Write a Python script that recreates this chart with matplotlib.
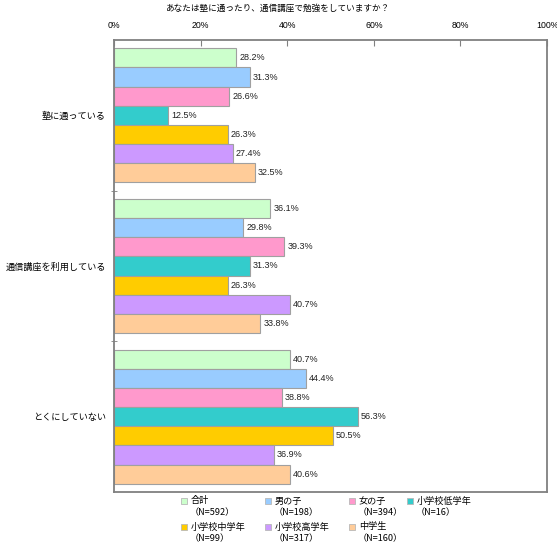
import matplotlib
matplotlib.use("Agg")
import matplotlib.pyplot as plt
import numpy as np
from matplotlib.patches import Rectangle

plt.rcParams['font.family'] = ['Noto Sans CJK JP', 'DejaVu Sans']

title = "あなたは塾に通ったり、通信講座で勉強をしていますか？"
categories = ["塾に通っている", "通信講座を利用している", "とくにしていない"]
series = ["合計", "男の子", "女の子", "小学校低学年", "小学校中学年", "小学校高学年", "中学生"]
ns = ["N=592", "N=198", "N=394", "N=16", "N=99", "N=317", "N=160"]
colors = ["#CCFFCC", "#99CCFF", "#FF99CC", "#33CCCC", "#FFCC00", "#CC99FF", "#FFCC99"]
values = [
    [28.2, 36.1, 40.7],
    [31.3, 29.8, 44.4],
    [26.6, 39.3, 38.8],
    [12.5, 31.3, 56.3],
    [26.3, 26.3, 50.5],
    [27.4, 40.7, 36.9],
    [32.5, 33.8, 40.6],
]
xticks = [0, 20, 40, 60, 80, 100]

W, H = 557, 543
fig = plt.figure(figsize=(W/100, H/100), dpi=100)
ax = fig.add_axes([114/W, 1-492/H, 433/W, 452/H])

nser = len(series)
group_w = 0.89
h = group_w / nser
y = np.arange(len(categories))
for i in range(nser):
    pos = y - group_w/2 + (i + 0.5) * h
    bars = ax.barh(pos, values[i], height=h, color=colors[i], edgecolor="#a0a0a0", linewidth=0.8)
    for b, v in zip(bars, values[i]):
        ax.text(b.get_width() + 0.7, b.get_y() + b.get_height()/2, f"{v:.1f}%",
                va="center", ha="left", fontsize=6.5, color="#222222",
                family=['Liberation Sans', 'DejaVu Sans'])

ax.set_xlim(0, 100)
ax.set_ylim(len(categories) - 0.5, -0.5)
ax.xaxis.tick_top()
ax.set_xticks(xticks)
ax.set_xticklabels([f"{t}%" for t in xticks], fontsize=6.3, family=['Liberation Sans', 'DejaVu Sans'])
ax.tick_params(axis="x", direction="in", length=4, pad=7, color="#808080")
ax.set_yticks(y)
ax.set_yticklabels(categories, fontsize=6.6)
ax.tick_params(axis="y", length=0, pad=6)
ax.set_yticks(np.arange(len(categories) - 1) + 0.5, minor=True)
ax.tick_params(axis="y", which="minor", length=4, direction="inout", color="#808080")
for s in ax.spines.values():
    s.set_color("#808080")
    s.set_linewidth(1.3)

fig.text(277.5/W, 1 - 8/H, title, ha="center", va="center", fontsize=6.2)

# custom legend (row-wise, 4 columns)
col_x = [183.5, 268, 352, 410]
row_y = [501, 527]
for i in range(nser):
    r, c = divmod(i, 4)
    mx, my = col_x[c], row_y[r]
    fig.patches.append(Rectangle(((mx - 3)/W, 1 - (my + 3)/H), 6/W, 6/H,
                                 transform=fig.transFigure, facecolor=colors[i],
                                 edgecolor="#b8b8b8", linewidth=0.6))
    fig.text((mx + 7)/W, 1 - my/H, series[i], ha="left", va="center", fontsize=6.6)
    fig.text((mx + 6)/W, 1 - (my + 12)/H, f"（{ns[i]}）", ha="left", va="center", fontsize=6.6)

fig.savefig("out.png", dpi=100)
